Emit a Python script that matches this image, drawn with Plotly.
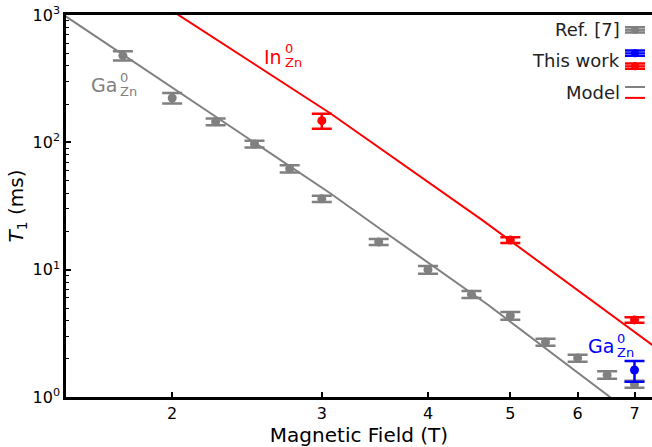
import math
import plotly.graph_objects as go

# ---------------- data ----------------
ref_B = [1.75, 2.0, 2.25, 2.5, 2.75, 3.0, 3.5, 4.0, 4.5, 5.0, 5.5, 6.0, 6.5, 7.0]
ref_T1 = [480, 223, 145, 97, 62, 36, 16.5, 10.0, 6.4, 4.35, 2.7, 2.02, 1.49, 1.26]
ref_err = [40, 21, 9, 6, 4, 2, 0.9, 0.7, 0.4, 0.3, 0.17, 0.13, 0.1, 0.08]

in_B = [3.0, 5.0, 7.0]
in_T1 = [148, 17.1, 4.03]
in_err = [20, 0.9, 0.2]

ga_B = [7.0]
ga_T1 = [1.63]
ga_err_plus = [0.29]
ga_err_minus = [0.31]

model_ga_B = [1.4965, 3.069, 3.529, 4.71, 6.55, 6.8]
model_ga_T1 = [984, 39.8, 20.5, 5.28, 1.0, 0.826]
model_in_B = [1.98, 3.069, 4.63, 7.5]
model_in_T1 = [1125, 169.3, 24.6, 2.31]

x_ticks = [2, 3, 4, 5, 6, 7]
y_ticks = [1, 10, 100, 1000]
y_ticktext = ["10<sup>0</sup>", "10<sup>1</sup>", "10<sup>2</sup>", "10<sup>3</sup>"]
y_minor = [m * 10 ** k for k in range(0, 3) for m in range(2, 10)]

GRAY = "#808080"
RED = "#ff0000"
BLUE = "#0000ff"
FONT = "DejaVu Sans"

fig = go.Figure()

# model lines
fig.add_trace(go.Scatter(x=model_ga_B, y=model_ga_T1, mode="lines",
                         line=dict(color=GRAY, width=2), showlegend=False))
fig.add_trace(go.Scatter(x=model_in_B, y=model_in_T1, mode="lines",
                         line=dict(color=RED, width=2), showlegend=False))

# data
def err(arr, color, minus=None):
    d = dict(type="data", array=arr, color=color, thickness=2.5, width=10, visible=True)
    if minus is not None:
        d["symmetric"] = False
        d["arrayminus"] = minus
    return d

fig.add_trace(go.Scatter(x=ref_B, y=ref_T1, mode="markers",
                         marker=dict(color=GRAY, size=9),
                         error_y=err(ref_err, GRAY), showlegend=False))
fig.add_trace(go.Scatter(x=in_B, y=in_T1, mode="markers",
                         marker=dict(color=RED, size=9),
                         error_y=err(in_err, RED), showlegend=False))
fig.add_trace(go.Scatter(x=ga_B, y=ga_T1, mode="markers",
                         marker=dict(color=BLUE, size=9),
                         error_y=err(ga_err_plus, BLUE, ga_err_minus), showlegend=False))

# ---------------- custom legend (glyphs on an overlay axis 0..1) ----------------
gx = 0.971
def glyph(y, color):
    fig.add_trace(go.Scatter(x=[gx - 0.017, gx + 0.017], y=[y, y], mode="lines",
                             line=dict(color=color, width=2), xaxis="x2", yaxis="y2",
                             showlegend=False))
    fig.add_trace(go.Scatter(x=[gx], y=[y], mode="markers",
                             marker=dict(color=color, size=8),
                             error_y=dict(type="constant", value=0.007, color=color,
                                          thickness=2.5, width=10),
                             xaxis="x2", yaxis="y2", showlegend=False))

glyph(0.961, GRAY)
glyph(0.900, BLUE)
glyph(0.866, RED)
for yy, c in [(0.8115, GRAY), (0.783, RED)]:
    fig.add_trace(go.Scatter(x=[gx - 0.017, gx + 0.017], y=[yy, yy], mode="lines",
                             line=dict(color=c, width=2), xaxis="x2", yaxis="y2",
                             showlegend=False))

annots = []
for txt, yy in [("Ref. [7]", 0.961), ("This work", 0.882), ("Model", 0.798)]:
    annots.append(dict(text=txt, x=0.949, y=yy, xref="paper", yref="paper",
                       xanchor="right", yanchor="middle", showarrow=False,
                       font=dict(family=FONT, size=18, color="#222222")))

# species labels: main text + stacked superscript/subscript
def species(main, x_px, y_px, color):
    xp = (x_px - 66) / 586
    yp = (397 - y_px) / 382
    annots.append(dict(text=main, x=xp, y=yp, xref="paper", yref="paper",
                       xanchor="right", yanchor="middle", showarrow=False,
                       borderpad=0, font=dict(family=FONT, size=19, color=color)))
    annots.append(dict(text="0", x=xp, y=yp, xref="paper", yref="paper",
                       xanchor="left", yanchor="middle", showarrow=False,
                       borderpad=0, xshift=1, yshift=8,
                       font=dict(family=FONT, size=13, color=color)))
    annots.append(dict(text="Zn", x=xp, y=yp, xref="paper", yref="paper",
                       xanchor="left", yanchor="middle", showarrow=False,
                       borderpad=0, xshift=1, yshift=-6,
                       font=dict(family=FONT, size=13, color=color)))

species("Ga", 118, 85, GRAY)
species("In", 283, 57, RED)
species("Ga", 615, 346, BLUE)

fig.update_layout(
    width=652, height=447,
    margin=dict(l=66, r=0, t=15, b=50),
    paper_bgcolor="white", plot_bgcolor="white",
    font=dict(family=FONT, size=16, color="black"),
    annotations=annots,
    xaxis=dict(type="log", range=[math.log10(1.5), math.log10(7.34)],
               tickvals=x_ticks, ticktext=[str(v) for v in x_ticks],
               ticks="inside", ticklen=5, tickwidth=1.5, tickcolor="black",
               showline=True, linewidth=2.5, linecolor="black", mirror=True,
               showgrid=False, zeroline=False,
               title=dict(text="Magnetic Field (T)", font=dict(size=20), standoff=2)),
    yaxis=dict(type="log", range=[0, 3],
               tickvals=y_ticks, ticktext=y_ticktext,
               ticks="inside", ticklen=5, tickwidth=1.5, tickcolor="black",
               minor=dict(ticks="inside", ticklen=3, tickwidth=1, tickcolor="black",
                          tickvals=y_minor, showgrid=False),
               showline=True, linewidth=2.5, linecolor="black", mirror=False,
               showgrid=False, zeroline=False,
               title=dict(text="<i>T</i><sub>1</sub> (ms)", font=dict(size=20), standoff=4)),
    xaxis2=dict(overlaying="x", range=[0, 1], visible=False),
    yaxis2=dict(overlaying="y", range=[0, 1], visible=False),
)

fig.write_html("out.html")
